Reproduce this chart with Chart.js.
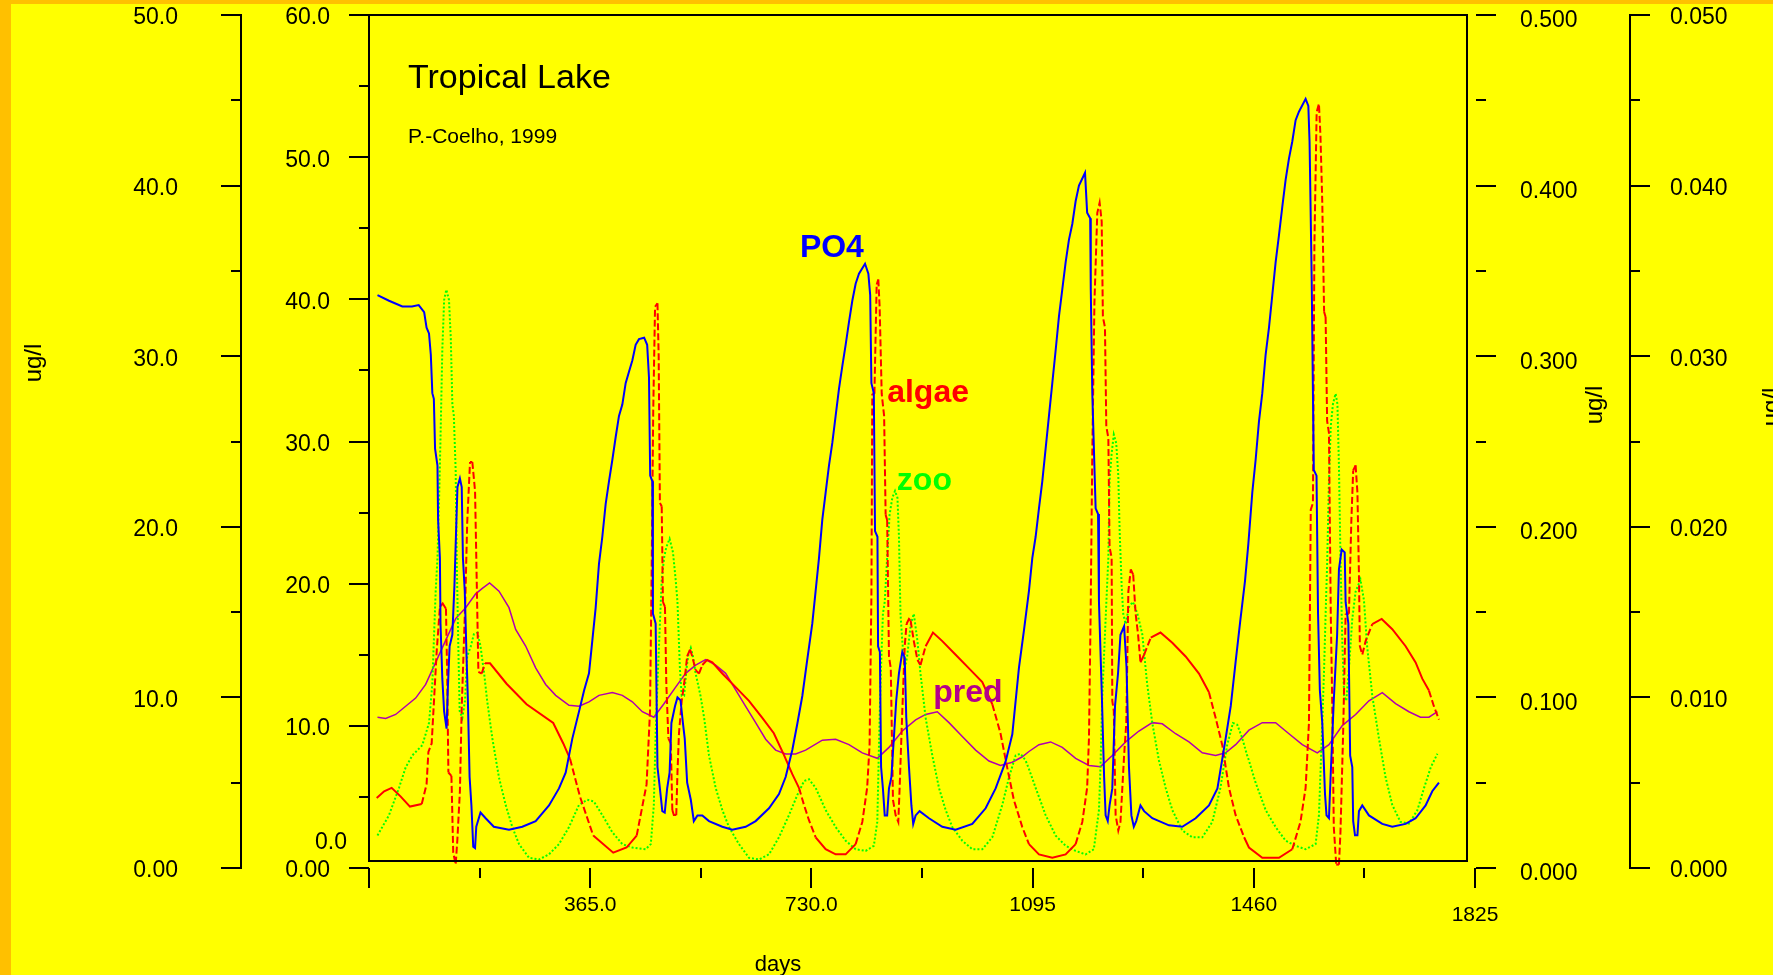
<!DOCTYPE html>
<html>
<head>
<meta charset="utf-8">
<script src="https://cdn.jsdelivr.net/npm/chart.js@4/dist/chart.umd.min.js"></script>
<style>
html,body{margin:0;padding:0;background:#FFC000;}
#wrap{width:1773px;height:975px;}
</style>
</head>
<body>
<div id="wrap"><canvas id="c" width="1773" height="975"></canvas></div>
<script>
// ---------- DATA ----------
const po4Days = [14,33,55,71,82,91,95,99,102,104.5,107,109,113,114,117,118,121,124,128,130,133,137.5,141,144,146,150,153,155,158,161,163,166,169,172,175,177,184,192.5,206,231,253,275,297,313.5,324.5,335.5,346.5,355,363,368.5,374,379.5,385,390.5,396,401.5,407,412.5,418,423.5,429,434.5,440,445.5,454,459,462,464,467.5,468.5,473,476,480,484,488,492,496,499,505,509,514,518,521,525,531,536,542,550,561,583,599.5,621.5,638,660,676.5,687.5,698.5,707,715,723,731.5,737,742.5,748,753.5,759,764.5,770,775.5,781,786.5,792,797.5,803,808.5,818.5,824,827,829,833,835,839,840,843,845,848,851,855,858,862,870,874.5,880,884,886.5,891,895,898,902,908.5,924,946,968,995.5,1017.5,1034,1050.5,1061.5,1072.5,1081,1089,1094.5,1100,1105.5,1111,1116.5,1122,1127.5,1133,1138.5,1144,1149.5,1155,1160.5,1166,1171.5,1181.5,1185,1190,1191,1193.5,1199,1203,1204.5,1209,1213,1215.5,1219,1222,1226.5,1231,1236,1240,1246,1250,1254,1258,1262,1266,1273,1279,1292.5,1320,1342,1364,1386,1400,1413.5,1422,1430,1438,1445.5,1451,1457.5,1463,1468.5,1474,1479.5,1485,1490.5,1496,1501.5,1507,1512.5,1518,1523.5,1529,1534.5,1545.5,1550,1552,1555.5,1559,1563.5,1566,1569,1573,1577.5,1580,1584,1587,1592,1597.5,1600.5,1605,1610,1611.5,1616,1619,1622.5,1624,1627,1631,1633.5,1639,1650,1672,1688.5,1710.5,1727,1743.5,1754.5,1765.5];
const po4Values = [40.3,39.9,39.5,39.5,39.6,39.1,38.0,37.6,36.1,33.4,33.0,29.5,28.3,24.5,21.8,17.2,13.3,11.0,9.8,12.5,15.6,16.4,19.9,24.1,26.8,27.4,26.8,21.8,19.5,14.8,12.1,6.4,4.4,1.5,1.4,2.9,3.9,3.5,2.9,2.7,2.9,3.3,4.4,5.6,6.7,9.1,11.0,12.5,13.7,16.0,18.3,21.4,23.3,25.6,27.2,28.7,30.3,31.8,32.6,34.1,34.9,35.7,36.8,37.2,37.3,36.8,34.5,27.6,27.2,17.9,17.2,7.1,5.6,4.0,3.9,5.6,6.7,10.2,11.4,12.0,11.8,10.2,9.1,6.0,4.8,3.3,3.7,3.7,3.3,2.9,2.7,2.9,3.3,4.2,5.2,6.4,8.3,10.2,12.1,14.6,17.2,19.5,21.8,24.5,26.4,28.3,29.9,31.8,33.7,35.3,36.8,38.4,39.9,41.1,41.8,42.5,41.8,40.3,34.1,33.4,23.7,23.3,15.6,15.2,7.1,5.6,3.7,3.7,5.6,6.4,11.8,13.7,15.2,14.8,10.6,7.1,4.4,3.1,3.7,4.0,3.5,2.9,2.7,3.1,4.2,5.6,7.5,9.4,14.1,16.8,19.5,21.8,23.3,25.3,27.2,29.5,31.8,34.1,36.4,38.8,40.7,42.6,44.2,45.3,46.9,48.0,48.9,46.1,45.7,40.7,33.4,25.3,24.9,18.7,12.5,6.4,3.7,3.3,4.4,5.6,11.4,13.7,16.4,17.0,14.1,7.1,3.7,2.9,3.3,4.4,4.0,3.5,3.0,2.9,3.5,4.4,5.6,9.1,11.4,14.5,17.5,20.2,22.8,26.4,28.7,31.4,33.4,36.1,38.0,40.3,42.6,44.5,46.5,48.4,49.9,51.1,52.6,53.2,54.1,53.6,51.1,41.5,28.0,27.6,17.9,12.5,10.2,5.2,3.7,3.5,6.7,11.8,16.4,21.0,22.4,22.2,18.7,17.2,7.9,7.1,3.3,2.3,2.3,4.0,4.4,3.7,3.1,2.9,3.1,3.5,4.4,5.4,6.0];

const algaeDays = [12.7,25,37.4,52,67.6,87,95,98,103.4,111.7,117,121.6,127,129,131,136,139,143,145.7,150,153,159,162,166.7,170.5,175,177.7,180.5,186,191.4,199.7,227,260,304,320.6,331.7,348,370,403,425,441.7,458,463.7,466.4,469,472,476,478,480,483,485,488.4,490.6,494,498,500.5,503,507,509,511.5,516,520,525,529.7,533.5,539,544.5,550,558,566.5,583,605,627,649,668,685,698.5,709.5,717.75,726,737,753.5,770,786.5,803,814,822,826,829,830.5,834,837.7,840.4,842.6,846,850,852.5,855,858,861,864.6,869,873.4,875.6,880,884,887,891,893.75,899,905,910,918.5,930.6,946,968,990,1012,1028.5,1042,1053,1064,1078,1089,1105.5,1127.5,1149.5,1166,1177,1185,1188,1190.75,1193.5,1197,1201.75,1205.6,1209,1211,1214.4,1216.6,1220,1222,1225.4,1226.5,1229,1232,1236.4,1240,1246,1249.6,1253,1257,1261,1265,1269,1273,1279,1290,1306,1325.5,1347.5,1369.5,1386,1397,1408,1419,1430,1444,1452,1474,1501.5,1523.5,1537,1545.5,1551,1554,1557.6,1560,1563.7,1567.5,1570,1573,1576,1578.5,1581,1584,1587,1589.5,1592,1596,1600.5,1603,1607.6,1611.5,1617,1621,1624,1628,1631,1633.5,1635,1639,1644.5,1655.5,1671,1688.5,1710.5,1727,1738,1749,1757,1765.5];
const algaeValues = [4.1,4.5,4.7,4.2,3.6,3.75,4.9,6.8,7.3,12.7,15.3,15.5,15.2,11.3,5.6,5.4,0.9,0.2,1.6,4.5,9.4,15.8,20.2,23.8,23.8,22.1,16.9,11.5,11.4,12.0,12.0,10.8,9.6,8.5,7.3,6.4,4.2,1.9,0.9,1.2,1.9,4.9,9.2,17.4,26.8,32.9,33.1,30.0,21.4,21.2,15.6,15.3,10.8,7.6,7.3,3.4,3.1,3.1,5.6,7.9,9.8,10.8,12.4,12.8,12.4,11.6,11.4,11.9,12.2,12.05,11.4,10.6,9.8,8.8,7.9,6.6,5.5,4.7,3.7,2.8,1.8,1.1,0.8,0.8,1.4,2.7,4.7,7.2,15.9,27.8,27.8,34.2,34.5,32.9,27.8,26.5,20.7,20.4,12.4,11.7,4.0,3.1,2.7,4.7,9.2,13.0,14.3,14.6,14.5,13.3,12.2,11.9,13.0,13.8,13.3,12.5,11.7,10.9,9.6,7.9,5.9,4.0,2.4,1.4,0.8,0.6,0.8,1.4,2.7,4.7,7.6,14.9,24.3,33.1,38.4,39.0,37.9,32.3,31.7,25.9,25.2,18.8,18.2,9.8,9.2,3.1,2.2,2.7,6.6,8.5,16.2,17.5,17.2,14.9,13.7,12.05,12.5,13.5,13.8,13.2,12.4,11.4,10.3,8.8,7.2,4.7,3.1,1.8,1.2,0.6,0.6,1.1,2.7,4.7,8.5,21.0,21.4,36.5,44.3,44.8,42.9,39.0,32.6,32.3,26.2,25.5,14.9,9.5,2.4,0.2,0.2,2.1,8.2,14.9,14.9,20.4,23.3,23.6,22.0,17.2,13.0,12.5,13.3,14.3,14.6,14.0,13.0,12.05,11.1,10.4,9.5,8.7];

const zooDays = [14,33,49.5,60.5,71.5,88,99,104.5,107,110,113,115.5,118,121,124,127.6,132,135,137.5,140,143,144.7,147.4,149.6,154,158.4,162,168,173,179,184,190,195,203.5,214.5,225.5,236.5,247.5,264,280.5,297,313.5,330,346.5,360,371,385,401.5,418,434.5,456.5,465,470,473,477,480,483,487,490.6,496,501.6,506,509,513,516,520,524,527,531,534.6,539,547,553,561,572,583,594,610.5,627,643.5,660,676.5,693,707,718,726,737,753.5,770,786.5,803,819.5,833,838.75,841.5,844,848,851,855,859,863.5,868,872,874.5,877,880,884,888,894,899,905,910,918.5,929.5,940.5,951.5,962.5,979,995.5,1012,1028.5,1045,1056,1067,1075,1083.5,1089,1100,1116.5,1133,1149.5,1166,1182.5,1196,1204.5,1207,1210,1215.5,1220,1222,1225.4,1229,1233,1236.4,1238.6,1242,1244.6,1248.5,1254,1260.6,1268,1276,1284,1292.5,1303.5,1314.5,1325.5,1342,1358.5,1375,1391.5,1405,1416,1425.6,1432.75,1441,1449,1452,1463,1479.5,1496,1512.5,1529,1545.5,1562,1567.5,1573,1576,1578.5,1581,1584,1587,1590.6,1595,1598,1600.5,1603,1606,1609,1612.6,1617,1622.5,1628,1636,1641.75,1647,1655.5,1666.5,1677.5,1688.5,1702,1716,1730,1741,1752,1763];
const zooValues = [0.019,0.031,0.047,0.059,0.066,0.072,0.085,0.108,0.133,0.162,0.182,0.214,0.252,0.304,0.333,0.339,0.333,0.310,0.272,0.265,0.233,0.182,0.130,0.092,0.088,0.098,0.124,0.130,0.137,0.138,0.130,0.114,0.098,0.076,0.053,0.037,0.024,0.014,0.006,0.005,0.008,0.014,0.024,0.037,0.040,0.039,0.031,0.021,0.014,0.012,0.011,0.014,0.037,0.079,0.117,0.143,0.169,0.182,0.188,0.193,0.185,0.169,0.156,0.117,0.101,0.101,0.117,0.125,0.129,0.124,0.114,0.101,0.088,0.066,0.047,0.034,0.024,0.014,0.006,0.005,0.008,0.018,0.031,0.043,0.051,0.052,0.047,0.034,0.024,0.016,0.011,0.010,0.013,0.027,0.072,0.108,0.149,0.156,0.182,0.207,0.217,0.221,0.217,0.194,0.149,0.133,0.117,0.124,0.143,0.149,0.133,0.114,0.088,0.066,0.047,0.034,0.024,0.016,0.011,0.011,0.018,0.037,0.053,0.066,0.067,0.063,0.058,0.047,0.031,0.019,0.013,0.010,0.008,0.011,0.034,0.059,0.101,0.146,0.182,0.227,0.243,0.254,0.249,0.230,0.198,0.165,0.149,0.143,0.153,0.156,0.149,0.137,0.108,0.085,0.063,0.047,0.034,0.022,0.018,0.018,0.027,0.047,0.072,0.085,0.084,0.076,0.066,0.063,0.050,0.034,0.024,0.016,0.013,0.011,0.014,0.031,0.085,0.117,0.149,0.178,0.227,0.259,0.272,0.278,0.272,0.236,0.182,0.133,0.101,0.098,0.117,0.146,0.162,0.169,0.157,0.130,0.101,0.076,0.053,0.037,0.027,0.026,0.034,0.047,0.059,0.067];

const predDays = [14,27.5,44,60.5,77,93.5,110,126.5,143,159.5,176,187,199,214.5,231,242,258.5,275,291.5,308,330,346.5,363,379.5,401.5,418,434.5,451,470,487,506,522.5,539,555.5,572,588.5,605,621.5,638,654.5,671,687.5,704,720.5,748,770,792,814,838.75,858,880,902,918.5,937.75,957,979,1001,1023,1042,1061.5,1078,1089,1105.5,1124.75,1144,1166,1188,1207,1226.5,1248.5,1270.5,1292.5,1309,1331,1353,1375,1397,1413.5,1430,1452,1474,1496,1518,1540,1564.75,1584,1606,1628,1650,1672,1694,1716,1735,1749,1763];
const predValues = [0.00884,0.00877,0.0090,0.00948,0.00996,0.01076,0.01205,0.01334,0.01462,0.01526,0.01607,0.01639,0.01671,0.01623,0.01526,0.01398,0.01301,0.01173,0.01076,0.01012,0.00954,0.00948,0.00974,0.01012,0.01028,0.01012,0.00974,0.00916,0.00884,0.00964,0.0106,0.01141,0.01189,0.01221,0.01189,0.01141,0.01044,0.00948,0.00852,0.00755,0.00691,0.00668,0.00668,0.00691,0.00749,0.00755,0.00723,0.00675,0.00643,0.00707,0.00803,0.00868,0.0090,0.00916,0.00852,0.00771,0.00691,0.00627,0.00601,0.0062,0.00652,0.00683,0.00723,0.00739,0.00707,0.00643,0.00601,0.00594,0.00659,0.00739,0.00803,0.00852,0.00845,0.00787,0.00739,0.00675,0.00659,0.00675,0.00723,0.00808,0.00852,0.00852,0.00787,0.00723,0.00675,0.00723,0.00835,0.0090,0.0098,0.01028,0.00964,0.00916,0.00884,0.00884,0.00916];

// ---------- TICKS / LABELS ----------
const xTickValues = [0,365,730,1095,1460,1825];
const xTickLabels = ['','365.0','730.0','1095','1460','1825'];
const xMinorTicks = [182.5,547.5,912.5,1277.5,1642.5];
const y1TickValues = [0,10,20,30,40,50];
const y1TickLabels = ['0.00','10.0','20.0','30.0','40.0','50.0'];
const y1MinorTicks = [5,15,25,35,45];
const y2TickValues = [0,10,20,30,40,50,60];
const y2TickLabels = ['0.00','10.0','20.0','30.0','40.0','50.0','60.0'];
const y2MinorTicks = [5,15,25,35,45,55];
const y3TickValues = [0,0.1,0.2,0.3,0.4,0.5];
const y3TickLabels = ['0.000','0.100','0.200','0.300','0.400','0.500'];
const y3MinorTicks = [0.05,0.15,0.25,0.35,0.45];
const y4TickValues = [0,0.01,0.02,0.03,0.04,0.05];
const y4TickLabels = ['0.000','0.010','0.020','0.030','0.040','0.050'];
const y4MinorTicks = [0.005,0.015,0.025,0.035,0.045];

const seriesNames = ['PO4','algae','zoo','pred'];
const seriesColors = ['#0000FF','#FF0000','#00FF00','#B000B0'];
const labelColors = ['#0000FF','#FF0000','#00FF00','#B4008C'];
const labelAxes = ['y2','y1','y3','y4'];
const labelDays = [711,855,871,931];
const labelValues = [43.0,27.3,0.2216,0.00973];

const FONT = '"Liberation Sans", Arial, Helvetica, sans-serif';

function pts(days, vals){ return days.map((d,i)=>({x:d,y:vals[i]})); }

function yScale(pos, weight, tickVals, tickLabels, width, pad, offset){
  return {
    type:'linear', position:pos, weight:weight,
    min: tickVals[0], max: tickVals[tickVals.length-1],
    afterBuildTicks: s => { s.ticks = tickVals.map(v=>({value:v})); },
    afterFit: s => { s.width = width; s.paddingTop = 0; s.paddingBottom = 0; },
    grid:{display:false, drawTicks:false},
    border:{display:false},
    ticks:{padding:pad, labelOffset:offset, color:'#000', autoSkip:false,
      font:{family:FONT, size:23},
      callback:(v,i)=>tickLabels[i]}
  };
}

function steep(ctx){
  const dx = Math.abs(ctx.p1.x - ctx.p0.x), dy = Math.abs(ctx.p1.y - ctx.p0.y);
  return dy > 2.5*dx && dy > 6;
}

const decor = {
  id:'decor',
  beforeDraw(chart){
    const c = chart.ctx;
    c.save();
    c.fillStyle = '#FFC000'; c.fillRect(0,0,chart.width,chart.height);
    c.fillStyle = '#FFFF00'; c.fillRect(11,4,chart.width-11,chart.height-4);
    c.restore();
  },
  afterDatasetsDraw(chart){
    const c = chart.ctx, a = chart.chartArea, s = chart.scales;
    c.save();
    c.strokeStyle = '#000'; c.lineWidth = 2; c.lineCap = 'butt';
    const line = (x1,y1,x2,y2)=>{ c.beginPath(); c.moveTo(x1,y1); c.lineTo(x2,y2); c.stroke(); };
    // plot frame
    c.strokeRect(a.left, a.top, (a.right-8)-a.left, (a.bottom-7)-a.top);
    const vt = (sc, x0, dir, vals, len)=>vals.forEach(v=>{ const y = Math.round(sc.getPixelForValue(v)); line(x0,y,x0+dir*len,y); });
    // y1 (far left)
    line(s.y1.right, a.top-1, s.y1.right, a.bottom+1);
    vt(s.y1, s.y1.right, -1, y1TickValues, 20); vt(s.y1, s.y1.right, -1, y1MinorTicks, 10);
    // y2 (plot left)
    vt(s.y2, s.y2.right, -1, y2TickValues, 20); vt(s.y2, s.y2.right, -1, y2MinorTicks, 10);
    // y3 (right)
    vt(s.y3, s.y3.left+1, 1, y3TickValues, 20); vt(s.y3, s.y3.left+1, 1, y3MinorTicks, 10);
    // y4 (far right)
    line(s.y4.left, a.top-1, s.y4.left, a.bottom+1);
    vt(s.y4, s.y4.left, 1, y4TickValues, 20); vt(s.y4, s.y4.left, 1, y4MinorTicks, 10);
    // x ticks
    xTickValues.forEach(v=>{ const x = Math.round(s.x.getPixelForValue(v)); line(x,a.bottom,x,a.bottom+20); });
    xMinorTicks.forEach(v=>{ const x = Math.round(s.x.getPixelForValue(v)); line(x,a.bottom,x,a.bottom+10); });

    c.fillStyle = '#000';
    // extra "0.0" label of the inner left axis
    c.font = '23px ' + FONT; c.textAlign = 'right'; c.textBaseline = 'middle';
    c.fillText('0.0', s.y2.right-22, a.bottom-25);
    // axis titles
    const vtext = (t,x,y)=>{ c.save(); c.translate(x,y); c.rotate(-Math.PI/2); c.textAlign='center'; c.textBaseline='middle'; c.fillText(t,0,0); c.restore(); };
    c.font = '24px ' + FONT;
    vtext('ug/l', s.y1.left+34, a.top+348);
    vtext('ug/l', s.y3.right-35, a.top+390);
    vtext('ug/l', s.y4.right-1, a.top+392);
    c.font = '22px ' + FONT; c.textAlign='center'; c.textBaseline='middle';
    c.fillText('days', a.left+409, a.bottom+97);
    // titles
    c.textAlign='left'; c.textBaseline='alphabetic';
    c.font = '34px ' + FONT; c.fillText('Tropical Lake', a.left+39, a.top+73);
    c.font = '21px ' + FONT; c.fillText('P.-Coelho, 1999', a.left+39, a.top+128);
    // series labels
    c.font = 'bold 32px ' + FONT;
    seriesNames.forEach((n,i)=>{
      c.fillStyle = labelColors[i];
      c.fillText(n, s.x.getPixelForValue(labelDays[i]), s[labelAxes[i]].getPixelForValue(labelValues[i]));
    });
    c.restore();
  }
};

new Chart(document.getElementById('c'), {
  type:'line',
  data:{
    datasets:[
      {label:seriesNames[0], data:pts(po4Days,po4Values), yAxisID:'y2', borderColor:seriesColors[0], borderWidth:2, pointRadius:0, tension:0, fill:false},
      {label:seriesNames[1], data:pts(algaeDays,algaeValues), yAxisID:'y1', borderColor:seriesColors[1], borderWidth:2, pointRadius:0, tension:0, fill:false,
        segment:{borderDash: ctx => steep(ctx) ? [7,3] : undefined}},
      {label:seriesNames[2], data:pts(zooDays,zooValues), yAxisID:'y3', borderColor:seriesColors[2], borderWidth:2, borderDash:[2,2], pointRadius:0, tension:0, fill:false},
      {label:seriesNames[3], data:pts(predDays,predValues), yAxisID:'y4', borderColor:seriesColors[3], borderWidth:1.5, pointRadius:0, tension:0, fill:false}
    ]
  },
  options:{
    responsive:false, devicePixelRatio:1, animation:false,
    layout:{padding:{left:0,right:0,top:15,bottom:0}},
    plugins:{legend:{display:false}, tooltip:{enabled:false}},
    scales:{
      x:{type:'linear', position:'bottom', min:0, max:1825,
        afterBuildTicks: s => { s.ticks = xTickValues.map(v=>({value:v})); },
        afterFit: s => { s.height = 107; },
        grid:{display:false, drawTicks:false}, border:{display:false},
        ticks:{padding:25, maxRotation:0, minRotation:0, autoSkip:false, color:'#000',
          font: ctx => ({family:FONT, size:21, lineHeight: (ctx.index === xTickValues.length-1) ? 2.1 : 1.2}),
          callback:(v,i)=>xTickLabels[i]}},
      y1: yScale('left', 2, y1TickValues, y1TickLabels, 241, 63, 3),
      y2: yScale('left', 1, y2TickValues, y2TickLabels, 128, 39, 3),
      y3: yScale('right', 1, y3TickValues, y3TickLabels, 155, 45, 6),
      y4: yScale('right', 2, y4TickValues, y4TickLabels, 143, 40, 3)
    }
  },
  plugins:[decor]
});
</script>
</body>
</html>
